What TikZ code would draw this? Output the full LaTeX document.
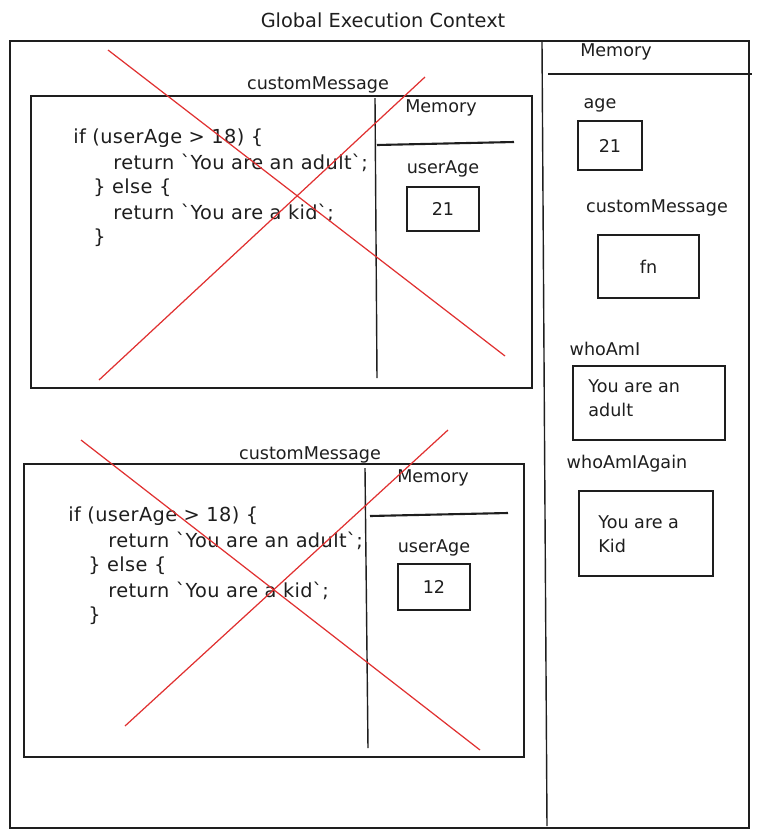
\documentclass[tikz,border=0pt]{standalone}
\usepackage{fontspec}
\setmainfont{DejaVu Sans}
\newfontfamily\codefont[LetterSpace=2]{DejaVu Sans}
\definecolor{ink}{HTML}{1E1E1E}
\definecolor{cross}{HTML}{E03131}
\newcommand{\bq}{\textasciigrave}
\tikzset{
  frame/.style={draw=ink, line width=0.8pt},
  lbl/.style={text=ink, font=\fontsize{10}{13.6}\selectfont, inner sep=0pt},
  code/.style={lbl, anchor=west, font=\codefont\fontsize{11}{13.6}\selectfont},
  valbox/.style={draw=ink, line width=0.6pt, text=ink, font=\fontsize{10}{13.6}\selectfont},
  strike/.style={draw=cross, line width=0.7pt},
}
\begin{document}
\begin{tikzpicture}[x=0.02cm, y=-0.02cm]
  \useasboundingbox (0,0) rectangle (762,836);
  % Global context
  \node[lbl, font=\fontsize{11}{13}\selectfont] (title) at (383,20) {Global Execution Context};
  \draw[frame] (10,41) rectangle (749,828);
  \draw[frame] (542,42) -- (547,826);
  % Global memory
  \node[lbl] (gmem) at (616,52) {Memory};
  \draw[ink, line width=1.2pt] (548,74) -- (752,74);
  \node[lbl] (agelbl) at (600,105) {age};
  \node[valbox, minimum width=1.28cm, minimum height=0.98cm] (age) at (610,145.5) {21};
  \node[lbl] (cmlbl) at (657,208) {customMessage};
  \node[valbox, minimum width=2.02cm, minimum height=1.26cm] (cm) at (648.5,266.5) {fn};
  \node[lbl] (wailbl) at (605,349) {whoAmI};
  \node[valbox, minimum width=3.04cm, minimum height=1.48cm] (wai) at (649,403) {};
  \node[lbl, align=left, anchor=west] (waitxt) at (588,398) {You are an\\adult};
  \node[lbl] (waalbl) at (627,464) {whoAmIAgain};
  \node[valbox, minimum width=2.68cm, minimum height=1.7cm] (waa) at (646,533.5) {};
  \node[lbl, align=left, anchor=west] (waatxt) at (598,534) {You are a\\Kid};

  % First call
  \node[lbl] (fn1lbl) at (318,85) {customMessage};
  \draw[frame] (31,96) rectangle (532,388);
  \draw[frame] (375,98) -- (377,378);
  \node[lbl] (mem1) at (441,108) {Memory};
  \draw[ink, line width=1.2pt] (377,145) -- (514,142);
  \node[lbl] (ua1lbl) at (443,169) {userAge};
  \node[valbox, minimum width=1.44cm, minimum height=0.88cm] (ua1) at (443,209) {21};
  \node[code] (c1a) at (73,138) {if (userAge > 18) \{};
  \node[code] (c1b) at (113,163) {return \bq You are an adult\bq;};
  \node[code] (c1c) at (93,188) {\} else \{};
  \node[code] (c1d) at (113,213) {return \bq You are a kid\bq;};
  \node[code] (c1e) at (93,238) {\}};
  \draw[strike] (108,50) -- (505,356);
  \draw[strike] (99,380) -- (425,77);

  % Second call
  \node[lbl] (fn2lbl) at (310,455) {customMessage};
  \draw[frame] (24,464) rectangle (524,757);
  \draw[frame] (365,468) -- (368,748);
  \node[lbl] (mem2) at (433,478) {Memory};
  \draw[ink, line width=1.2pt] (370,516) -- (508,513);
  \node[lbl] (ua2lbl) at (434,548) {userAge};
  \node[valbox, minimum width=1.44cm, minimum height=0.92cm] (ua2) at (434,587) {12};
  \node[code] (c2a) at (68,516) {if (userAge > 18) \{};
  \node[code] (c2b) at (108,541) {return \bq You are an adult\bq;};
  \node[code] (c2c) at (88,566) {\} else \{};
  \node[code] (c2d) at (108,591) {return \bq You are a kid\bq;};
  \node[code] (c2e) at (88,616) {\}};
  \draw[strike] (81,440) -- (480,750);
  \draw[strike] (125,726) -- (448,430);
\end{tikzpicture}
\end{document}
